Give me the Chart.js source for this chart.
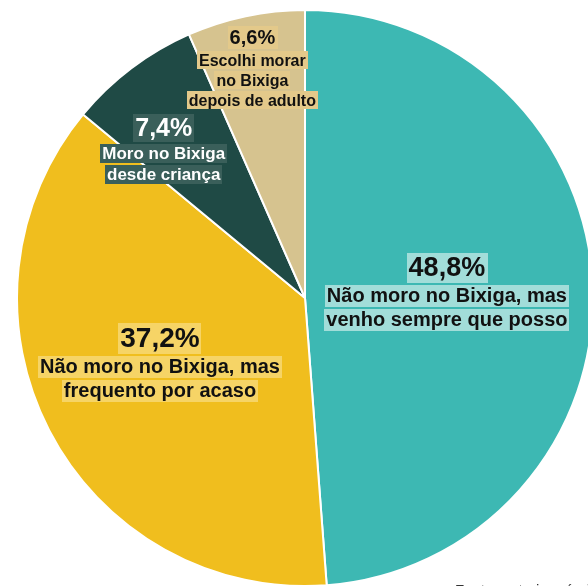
<!DOCTYPE html>
<html lang="pt-BR">
<head>
<meta charset="utf-8">
<title>Relação com o Bixiga</title>
<script src="https://cdn.jsdelivr.net/npm/chart.js@4.4.1/dist/chart.umd.min.js"></script>
<style>
  html, body { margin: 0; padding: 0; width: 588px; height: 586px; overflow: hidden; background: #ffffff; }
  #wrap { position: absolute; left: 16px; top: 9px; width: 578px; height: 578px; }
  #fonte { position: absolute; left: 455px; top: 581px; font: 15px "Liberation Sans", Arial, sans-serif; color: #333; white-space: nowrap; }
</style>
</head>
<body>
<div id="wrap"><canvas id="pie" width="578" height="578"></canvas></div>
<div id="fonte">Fonte: autoria própria</div>
<script>
// Respostas: relação de cada pessoa com o bairro do Bixiga (%)
const categorias = [
  "Não moro no Bixiga, mas\nvenho sempre que posso",
  "Não moro no Bixiga, mas\nfrequento por acaso",
  "Moro no Bixiga\ndesde criança",
  "Escolhi morar\nno Bixiga\ndepois de adulto"
];
const percentuais = [48.8, 37.2, 7.4, 6.6];
const cores = ["#3db8b3", "#f0be1e", "#1f4a45", "#d6c38f"];

// Estilo dos rótulos de cada fatia
const estiloRotulo = [
  { dist: 0.493, dx: 0,  dy: -1,  pct: 27, txt: 20, cor: "#111", fundo: "#a2ddd9" },
  { dist: 0.567, dx: 0,  dy: -11, pct: 28, txt: 20, cor: "#111", fundo: "#f6d466" },
  { dist: 0.71, dx: -18, dy: 14,  pct: 25, txt: 17, cor: "#fff", fundo: "#3a5f5a" },
  { dist: 0.82, dx: -4,  dy: 1,   pct: 20, txt: 16, cor: "#111", fundo: "#e3c98a" }
];

const formatarPct = v => v.toFixed(1).replace(".", ",") + "%";

const rotulos = {
  id: "rotulosFatias",
  afterDatasetsDraw(chart) {
    const ctx = chart.ctx;
    const arcs = chart.getDatasetMeta(0).data;
    arcs.forEach((arc, i) => {
      const s = estiloRotulo[i];
      const mid = (arc.startAngle + arc.endAngle) / 2;
      const cx = arc.x + Math.cos(mid) * arc.outerRadius * s.dist + s.dx;
      const cy = arc.y + Math.sin(mid) * arc.outerRadius * s.dist + s.dy;
      const linhas = [{ t: formatarPct(percentuais[i]), size: s.pct, h: s.pct + 3 }]
        .concat(categorias[i].split("\n").map(t => ({ t, size: s.txt, h: s.txt + 2 })));
      const gap = 2;
      const total = linhas.reduce((a, l) => a + l.h, 0) + gap * (linhas.length - 1);
      let y = cy - total / 2;
      ctx.save();
      ctx.textAlign = "center";
      ctx.textBaseline = "middle";
      linhas.forEach(l => {
        ctx.font = `bold ${l.size}px "Liberation Sans", Arial, sans-serif`;
        const w = ctx.measureText(l.t).width + 4;
        ctx.fillStyle = s.fundo;
        ctx.fillRect(Math.round(cx - w / 2), Math.round(y), Math.round(w), l.h);
        ctx.fillStyle = s.cor;
        ctx.fillText(l.t, cx, y + l.h / 2 + 1);
        y += l.h + gap;
      });
      ctx.restore();
    });
  }
};

new Chart(document.getElementById("pie"), {
  type: "pie",
  data: {
    labels: categorias,
    datasets: [{
      data: percentuais,
      backgroundColor: cores,
      borderColor: "#ffffff",
      borderWidth: 2
    }]
  },
  options: {
    responsive: false,
    animation: false,
    layout: { padding: 0 },
    plugins: { legend: { display: false }, tooltip: { enabled: false } }
  },
  plugins: [rotulos]
});
</script>
</body>
</html>
